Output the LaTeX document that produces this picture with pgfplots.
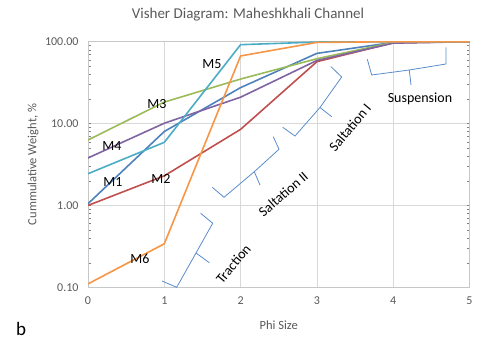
\documentclass[border=0pt]{standalone}
\usepackage{pgfplots}
\pgfplotsset{compat=1.18}
\usepackage{fontspec}
\setmainfont{Carlito}
\definecolor{cM1}{HTML}{4F81BD}
\definecolor{cM2}{HTML}{C0504D}
\definecolor{cM3}{HTML}{9BBB59}
\definecolor{cM4}{HTML}{8064A2}
\definecolor{cM5}{HTML}{4BACC6}
\definecolor{cM6}{HTML}{F79646}
\definecolor{txtgray}{HTML}{595959}
\definecolor{gridgray}{HTML}{D9D9D9}
\definecolor{bracecol}{HTML}{5B8CCB}
\begin{document}
\begin{tikzpicture}
\path[use as bounding box] (0,0) rectangle (500bp,352bp);
\begin{axis}[
  name=ax,
  at={(88bp,64.7bp)}, anchor=south west,
  scale only axis, width=381.5bp, height=245.6bp,
  xmin=0, xmax=5, ymin=0.1, ymax=100,
  ymode=log,
  xtick={0,1,2,3,4,5},
  ytick={0.1,1,10,100},
  yticklabels={0.10,1.00,10.00,100.00},
  /pgf/number format/assume math mode=true,
  major tick length=0,
  minor tick num=0,
  xmajorgrids, ymajorgrids,
  grid style={gridgray, line width=0.8bp},
  axis line style={gridgray!80!gray, line width=0.8bp},
  tick label style={font=\fontsize{12bp}{14bp}\selectfont, text=txtgray},
  yticklabel style={anchor=east, xshift=-6bp},
  xticklabel style={anchor=north, yshift=-6bp},
  xlabel={Phi Size},
  xlabel style={at={(axis description cs:0.5,-0.1535)}, anchor=center, font=\fontsize{12.5bp}{15bp}\selectfont, text=txtgray},
  ylabel={Cummulative Weight, \%},
  ylabel style={at={(axis description cs:-0.1442,0.5)}, anchor=center, font=\fontsize{12.5bp}{15bp}\selectfont, text=txtgray},
  every axis plot/.append style={line width=1.6bp, line join=round, mark=none},
]
\addplot[cM1] coordinates {(0,1.05) (1,8.0) (2,27.5) (3,72) (4,98) (5,100)};
\addplot[cM2] coordinates {(0,1.0) (1,2.3) (2,8.5) (3,57) (4,97) (5,100)};
\addplot[cM3] coordinates {(0,6.3) (1,18.3) (2,35) (3,62) (4,98) (5,100)};
\addplot[cM4] coordinates {(0,3.8) (1,10.1) (2,21) (3,59) (4,96) (5,100)};
\addplot[cM5] coordinates {(0,2.44) (1,5.9) (2,92) (3,99) (4,100) (5,100)};
\addplot[cM6] coordinates {(0,0.11) (1,0.34) (2,67) (3,98) (4,100) (5,100)};
\end{axis}
\begin{scope}[x=1bp, y=-1bp, yshift=352bp]
  \node[font=\fontsize{15bp}{18bp}\selectfont, text=txtgray, inner sep=0pt] at (248,15) {Visher Diagram: Maheshkhali Channel};
  % braces
  \begin{scope}[bracecol, line width=0.8bp, line join=miter]
    \draw (162,281) -- (176.7,287.3) -- (196,253) -- (212.7,223.3) -- (200.7,213.3);
    \draw (196,253) -- (209.3,262.7);
    \draw (212.3,187.3) -- (224,197.3) -- (254.3,171.7) -- (279,149.3) -- (273.3,136.7);
    \draw (254.3,171.7) -- (260,185);
    \draw (282.7,127.3) -- (295,136) -- (320,107.5) -- (341.7,77) -- (331,66.7);
    \draw (320,107.5) -- (331.7,116.7);
    \draw (367.3,59.3) -- (371.7,75) -- (409.3,70) -- (446,64) -- (446,47.3);
    \draw (409.3,70) -- (411,85);
  \end{scope}
  % series labels
  \begin{scope}[every node/.style={font=\fontsize{14bp}{16bp}\selectfont, text=black, inner sep=0pt}]
    \node at (212,64) {M5};
    \node at (157,104) {M3};
    \node at (112,146) {M4};
    \node at (113,182) {M1};
    \node at (161,179) {M2};
    \node at (140,259) {M6};
    \node[rotate=50] at (233.3,264) {Traction};
    \node[rotate=41] at (283.3,194) {Saltation II};
    \node[rotate=50] at (350,127.3) {Saltation I};
    \node at (420,99) {Suspension};
  \end{scope}
  \node[font=\fontsize{19bp}{22bp}\selectfont, inner sep=0pt] at (21,329) {b};
\end{scope}
\end{tikzpicture}
\end{document}
